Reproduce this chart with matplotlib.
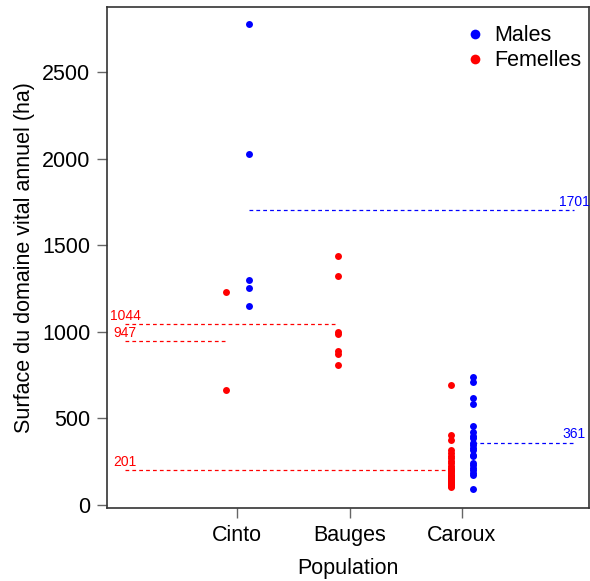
import matplotlib
matplotlib.use('Agg')
import matplotlib.pyplot as plt
import numpy as np

plt.rcParams['font.family'] = ['Liberation Sans', 'DejaVu Sans']

populations = ['Cinto', 'Bauges', 'Caroux']

# home range size (ha) per individual
cinto_males = [2775, 2025, 1300, 1255, 1150]
cinto_females = [1230, 664]
bauges_females = [1436, 1320, 1000, 985, 890, 870, 810]
caroux_males = [741, 712, 620, 581, 458, 420, 400, 385, 360, 346, 327, 320,
                289, 285, 240, 231, 215, 202, 185, 173, 90]
caroux_females = [691, 404, 375, 318, 300, 285, 270, 255, 240, 228, 215, 205,
                  200, 195, 185, 175, 168, 160, 160, 152, 145, 138, 135, 130,
                  125, 124, 118, 115, 112, 106]

# means shown as dashed lines
male_means = {'Cinto': 1701, 'Caroux': 361}
female_means = {'Cinto': 947, 'Bauges': 1044, 'Caroux': 201}

males = {'Cinto': cinto_males, 'Caroux': caroux_males}
females = {'Cinto': cinto_females, 'Bauges': bauges_females, 'Caroux': caroux_females}

fig = plt.figure(figsize=(5.90, 5.81), dpi=100)
ax = fig.add_axes([107 / 590, 1 - 508 / 581, 482 / 590, 501 / 581])

off = 0.1
for i, pop in enumerate(populations):
    pos = i + 1
    if pop in females:
        v = females[pop]
        ax.plot([pos - off] * len(v), v, 'o', color='red', ms=5, mew=0)
        m = female_means[pop]
        ax.plot([0, pos - off], [m, m], color='red', lw=0.9, ls=(0, (3, 2.5)))
        ax.annotate(str(m), (0, m), xytext=(0, 1), textcoords='offset points',
                    ha='center', va='bottom', color='red', fontsize=10)
    if pop in males:
        v = males[pop]
        ax.plot([pos + off] * len(v), v, 'o', color='blue', ms=5, mew=0)
        m = male_means[pop]
        ax.plot([pos + off, 4], [m, m], color='blue', lw=0.9, ls=(0, (3, 2.5)))
        ax.annotate(str(m), (4, m), xytext=(0, 1), textcoords='offset points',
                    ha='center', va='bottom', color='blue', fontsize=10)

ax.set_xlim(-0.162, 4.134)
ax.set_ylim(-17, 2875)
ax.set_xticks([1, 2, 3])
ax.set_xticklabels(populations)
ax.set_yticks([0, 500, 1000, 1500, 2000, 2500])
ax.tick_params(labelsize=15.5, length=7, width=1, color='#666666', pad=5)
for s in ax.spines.values():
    s.set_color('#333333')
    s.set_linewidth(1.2)

ax.set_xlabel('Population', fontsize=15.5, labelpad=9)
ax.set_ylabel('Surface du domaine vital annuel (ha)', fontsize=15.5, labelpad=5)

h1, = ax.plot([], [], 'o', color='blue', ms=7, mew=0, label='Males')
h2, = ax.plot([], [], 'o', color='red', ms=7, mew=0, label='Femelles')
ax.legend(handles=[h1, h2], loc='upper right', bbox_to_anchor=(1.003, 0.981),
          frameon=False, fontsize=15.5, handletextpad=0.3, labelspacing=0.2,
          borderaxespad=0.0, handlelength=1.2)

plt.savefig('out.png', dpi=100)
